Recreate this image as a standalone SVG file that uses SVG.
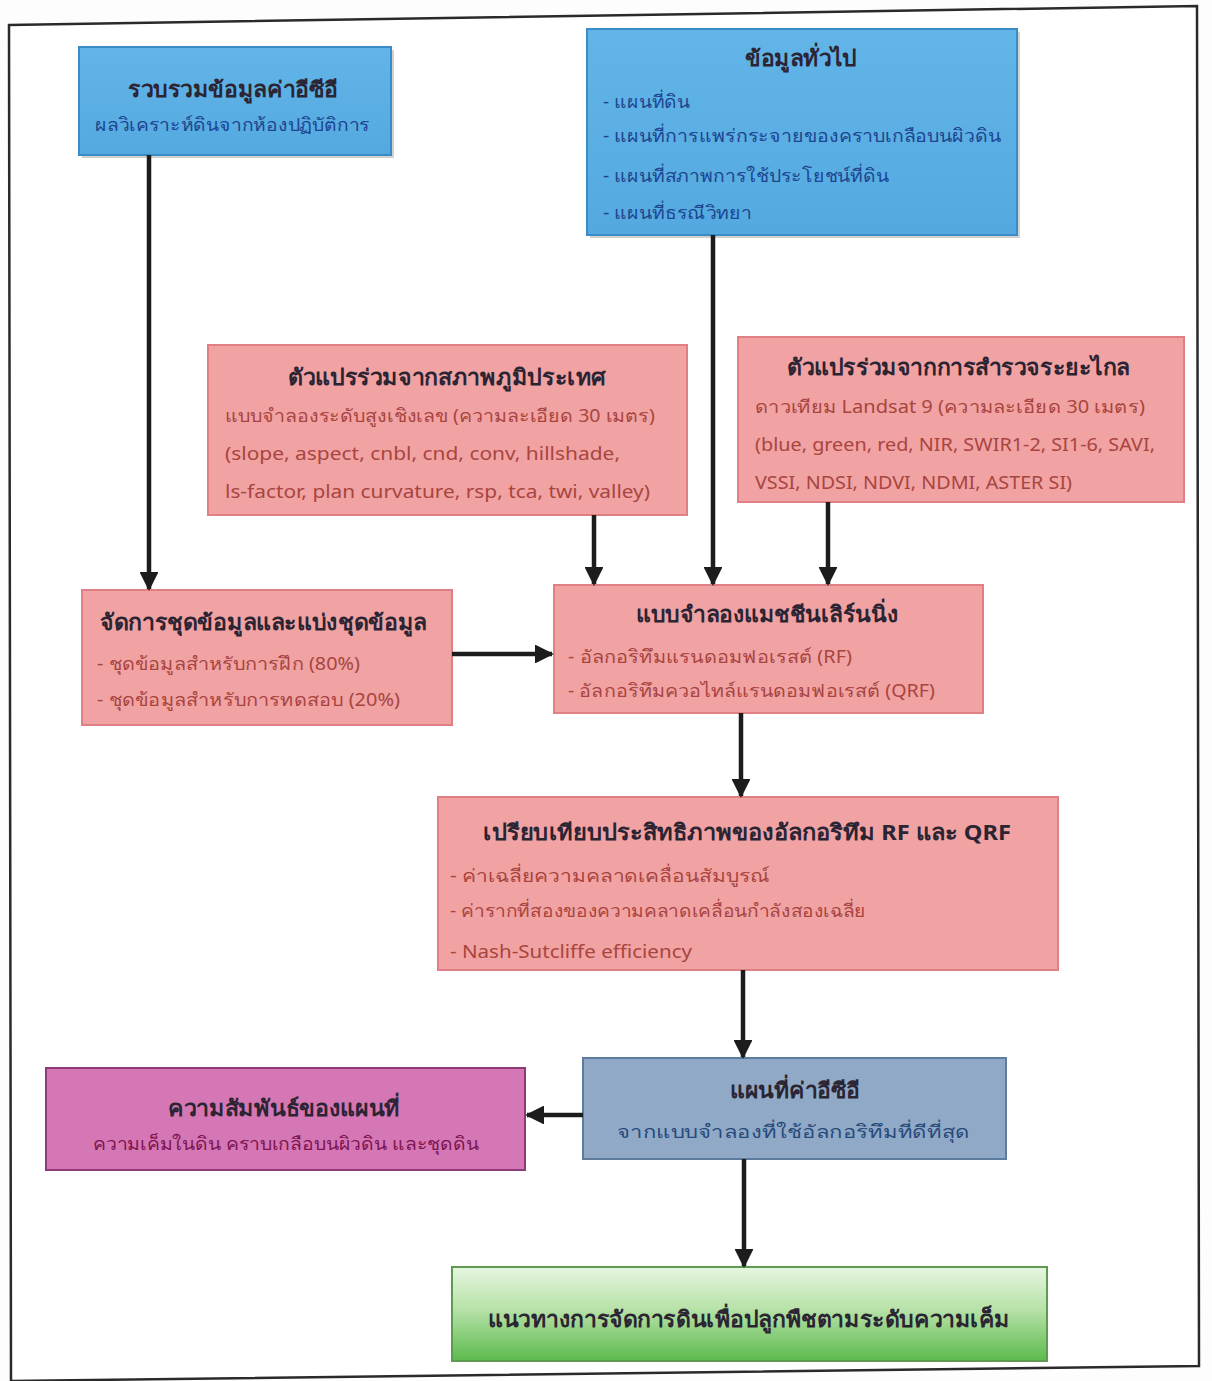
<svg xmlns="http://www.w3.org/2000/svg" width="1212" height="1381" viewBox="0 0 1212 1381">
<defs>
<linearGradient id="gGreen" x1="0" y1="0" x2="0" y2="1">
<stop offset="0" stop-color="#e6f5e0"/>
<stop offset="0.45" stop-color="#b7e2a8"/>
<stop offset="1" stop-color="#5cba4c"/>
</linearGradient>
<linearGradient id="gBlue" x1="0" y1="0" x2="0" y2="1">
<stop offset="0" stop-color="#63b5e8"/>
<stop offset="1" stop-color="#53a9df"/>
</linearGradient>
<marker id="ah" viewBox="0 0 10 10" refX="9" refY="5" markerWidth="4.2" markerHeight="4.2" orient="auto" markerUnits="strokeWidth">
<path d="M0,0 L10,5 L0,10 Z" fill="#1c1c1c"/>
</marker>
</defs>
<style>
.blue{fill:url(#gBlue);stroke:#3b8cc6;stroke-width:2}
.pink{fill:#f1a2a3;stroke:#e08084;stroke-width:2}
.mag{fill:#d677b5;stroke:#8e3a78;stroke-width:2}
.grey{fill:#8fa9c6;stroke:#5d7c9e;stroke-width:2}
.green{fill:url(#gGreen);stroke:#5f9a52;stroke-width:2}
.sh{fill:#9a9a9a;opacity:0.45}
text{font-family:"Noto Sans","DejaVu Sans",sans-serif}
.t{font-size:22px;font-weight:bold;fill:#2b2433}
.s{font-size:18px}
.sb{fill:#1d4590}
.sp{fill:#a8453f}
.sm{fill:#7c1552}
.sg{fill:#284a7c}
.c{stroke:#1c1c1c;stroke-width:4.5;fill:none;marker-end:url(#ah)}
</style>
<rect x="0" y="0" width="1212" height="1381" fill="#fdfdfd"/>
<polygon points="9,25 1197,6 1199,1366 11,1381" fill="#ffffff" stroke="#2a2a2a" stroke-width="2.5"/>

<g id="n1">
<rect class="sh" x="82" y="50" width="312" height="108"/>
<rect class="blue" x="79" y="47" width="312" height="108"/>
<text class="t" x="128" y="97" textLength="210" lengthAdjust="spacingAndGlyphs">รวบรวมข้อมูลค่าอีซีอี</text>
<text class="s sb" x="95" y="131" textLength="275" lengthAdjust="spacingAndGlyphs">ผลวิเคราะห์ดินจากห้องปฏิบัติการ</text>
</g>

<g id="n2">
<rect class="sh" x="590" y="32" width="430" height="206"/>
<rect class="blue" x="587" y="29" width="430" height="206"/>
<text class="t" x="745" y="66" textLength="112" lengthAdjust="spacingAndGlyphs">ข้อมูลทั่วไป</text>
<text class="s sb" x="603" y="108" textLength="87" lengthAdjust="spacingAndGlyphs">- แผนที่ดิน</text>
<text class="s sb" x="603" y="142" textLength="398" lengthAdjust="spacingAndGlyphs">- แผนที่การแพร่กระจายของคราบเกลือบนผิวดิน</text>
<text class="s sb" x="603" y="182" textLength="286" lengthAdjust="spacingAndGlyphs">- แผนที่สภาพการใช้ประโยชน์ที่ดิน</text>
<text class="s sb" x="603" y="219" textLength="149" lengthAdjust="spacingAndGlyphs">- แผนที่ธรณีวิทยา</text>
</g>

<g id="n3">
<rect class="pink" x="208" y="345" width="479" height="170"/>
<text class="t" x="288" y="385" textLength="318" lengthAdjust="spacingAndGlyphs">ตัวแปรร่วมจากสภาพภูมิประเทศ</text>
<text class="s sp" x="225" y="422" textLength="430" lengthAdjust="spacingAndGlyphs">แบบจำลองระดับสูงเชิงเลข (ความละเอียด 30 เมตร)</text>
<text class="s sp" x="225" y="460" textLength="395" lengthAdjust="spacingAndGlyphs">(slope, aspect, cnbl, cnd, conv, hillshade,</text>
<text class="s sp" x="225" y="498" textLength="425" lengthAdjust="spacingAndGlyphs">ls-factor, plan curvature, rsp, tca, twi, valley)</text>
</g>

<g id="n4">
<rect class="pink" x="738" y="337" width="446" height="165"/>
<text class="t" x="787" y="375" textLength="343" lengthAdjust="spacingAndGlyphs">ตัวแปรร่วมจากการสำรวจระยะไกล</text>
<text class="s sp" x="755" y="413" textLength="390" lengthAdjust="spacingAndGlyphs">ดาวเทียม Landsat 9 (ความละเอียด 30 เมตร)</text>
<text class="s sp" x="755" y="451" textLength="400" lengthAdjust="spacingAndGlyphs">(blue, green, red, NIR, SWIR1-2, SI1-6, SAVI,</text>
<text class="s sp" x="755" y="489" textLength="317" lengthAdjust="spacingAndGlyphs">VSSI, NDSI, NDVI, NDMI, ASTER SI)</text>
</g>

<g id="n5">
<rect class="pink" x="82" y="590" width="370" height="135"/>
<text class="t" x="100" y="630" textLength="327" lengthAdjust="spacingAndGlyphs">จัดการชุดข้อมูลและแบ่งชุดข้อมูล</text>
<text class="s sp" x="97" y="670" textLength="263" lengthAdjust="spacingAndGlyphs">- ชุดข้อมูลสำหรับการฝึก (80%)</text>
<text class="s sp" x="97" y="706" textLength="303" lengthAdjust="spacingAndGlyphs">- ชุดข้อมูลสำหรับการทดสอบ (20%)</text>
</g>

<g id="n6">
<rect class="pink" x="554" y="585" width="429" height="128"/>
<text class="t" x="636" y="622" textLength="262" lengthAdjust="spacingAndGlyphs">แบบจำลองแมชชีนเลิร์นนิ่ง</text>
<text class="s sp" x="568" y="663" textLength="284" lengthAdjust="spacingAndGlyphs">- อัลกอริทึมแรนดอมฟอเรสต์ (RF)</text>
<text class="s sp" x="568" y="697" textLength="367" lengthAdjust="spacingAndGlyphs">- อัลกอริทึมควอไทล์แรนดอมฟอเรสต์ (QRF)</text>
</g>

<g id="n7">
<rect class="pink" x="438" y="797" width="620" height="173"/>
<text class="t" x="483" y="840" textLength="528" lengthAdjust="spacingAndGlyphs">เปรียบเทียบประสิทธิภาพของอัลกอริทึม RF และ QRF</text>
<text class="s sp" x="450" y="882" textLength="320" lengthAdjust="spacingAndGlyphs">- ค่าเฉลี่ยความคลาดเคลื่อนสัมบูรณ์</text>
<text class="s sp" x="450" y="917" textLength="416" lengthAdjust="spacingAndGlyphs">- ค่ารากที่สองของความคลาดเคลื่อนกำลังสองเฉลี่ย</text>
<text class="s sp" x="450" y="958" textLength="242" lengthAdjust="spacingAndGlyphs">- Nash-Sutcliffe efficiency</text>
</g>

<g id="n8">
<rect class="mag" x="46" y="1068" width="479" height="102"/>
<text class="t" x="168" y="1116" textLength="232" lengthAdjust="spacingAndGlyphs">ความสัมพันธ์ของแผนที่</text>
<text class="s sm" x="93" y="1150" textLength="386" lengthAdjust="spacingAndGlyphs">ความเค็มในดิน คราบเกลือบนผิวดิน และชุดดิน</text>
</g>

<g id="n9">
<rect class="grey" x="583" y="1058" width="423" height="101"/>
<text class="t" x="730" y="1098" textLength="130" lengthAdjust="spacingAndGlyphs">แผนที่ค่าอีซีอี</text>
<text class="s sg" x="617" y="1138" textLength="353" lengthAdjust="spacingAndGlyphs">จากแบบจำลองที่ใช้อัลกอริทึมที่ดีที่สุด</text>
</g>

<g id="n10">
<rect class="green" x="452" y="1267" width="595" height="94"/>
<text class="t" x="488" y="1327" textLength="522" lengthAdjust="spacingAndGlyphs">แนวทางการจัดการดินเพื่อปลูกพืชตามระดับความเค็ม</text>
</g>

<g id="connectors">
<line class="c" x1="149" y1="155" x2="149" y2="589"/>
<line class="c" x1="713" y1="235" x2="713" y2="584"/>
<line class="c" x1="594" y1="515" x2="594" y2="584"/>
<line class="c" x1="828" y1="502" x2="828" y2="584"/>
<line class="c" x1="452" y1="654" x2="552" y2="654"/>
<line class="c" x1="741" y1="713" x2="741" y2="796"/>
<line class="c" x1="743" y1="970" x2="743" y2="1057"/>
<line class="c" x1="583" y1="1115" x2="527" y2="1115"/>
<line class="c" x1="744" y1="1159" x2="744" y2="1266"/>
</g>
</svg>
